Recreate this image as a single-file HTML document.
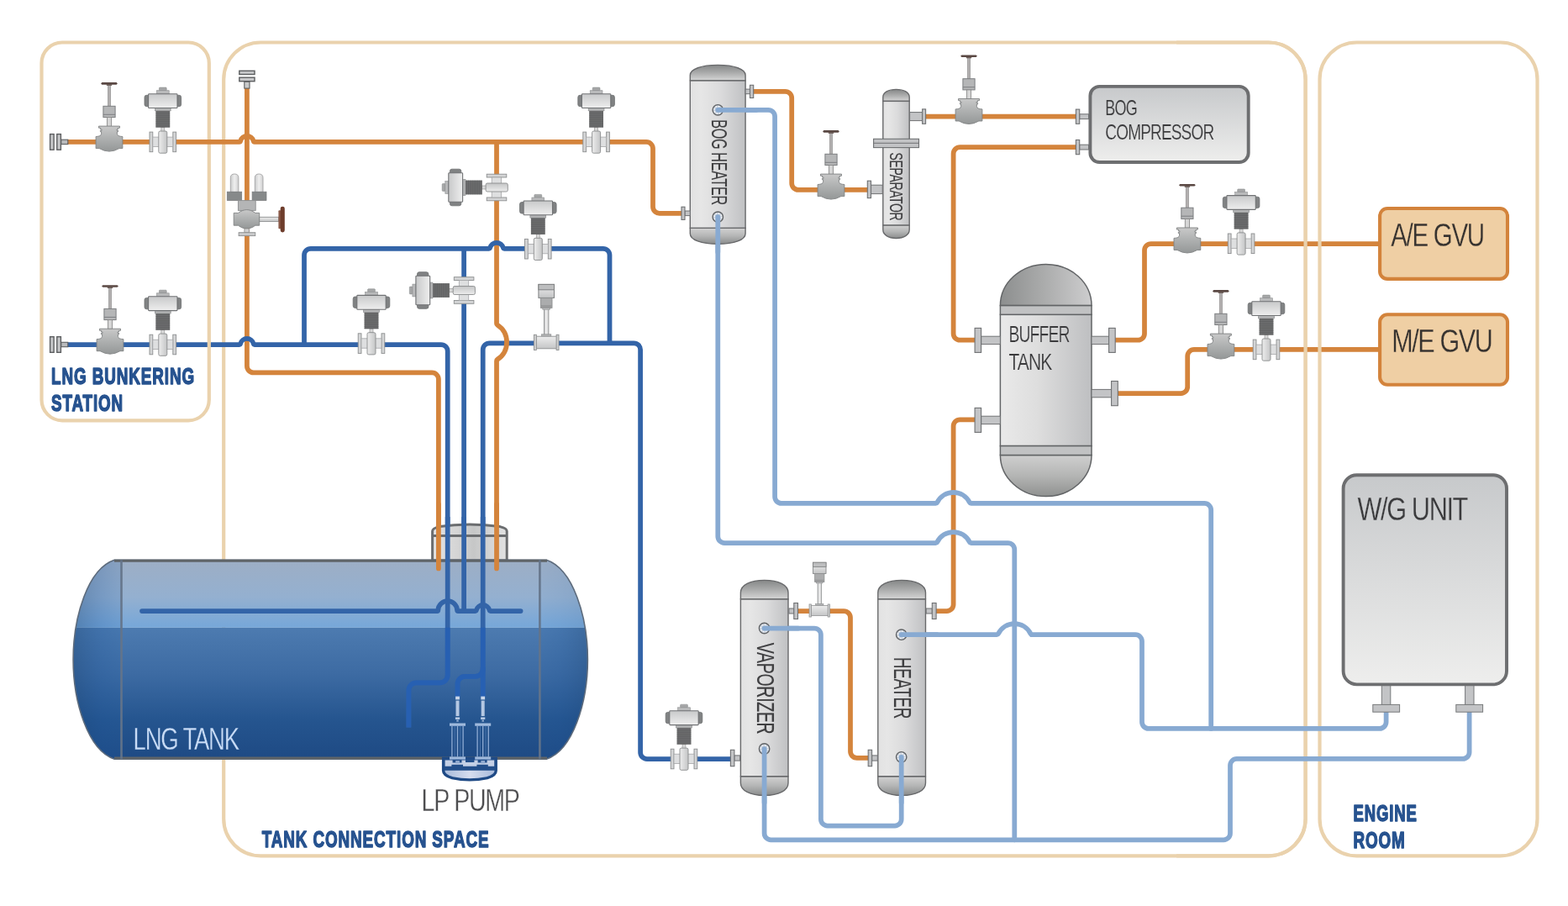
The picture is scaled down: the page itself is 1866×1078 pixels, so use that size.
<!DOCTYPE html>
<html lang="en">
<head>
<meta charset="utf-8">
<title>LNG fuel gas supply system</title>
<style>
html,body{margin:0;padding:0;background:#fff;}
body{width:1866px;height:1078px;overflow:hidden;font-family:"Liberation Sans",sans-serif;}
svg{display:block;}
</style>
</head>
<body>
<svg width="1866" height="1078" viewBox="0 0 1866 1078" style="will-change:transform">
<defs>
<linearGradient id="g1" x1="0" y1="0" x2="1" y2="0"><stop offset="0" stop-color="#E2E2E2"/><stop offset="0.2" stop-color="#E6E6E6"/><stop offset="0.55" stop-color="#DBDBDC"/><stop offset="1" stop-color="#C0C1C3"/></linearGradient>
<linearGradient id="g2" x1="0" y1="0" x2="0" y2="1"><stop offset="0" stop-color="#858787"/><stop offset="0.5" stop-color="#ABACAC"/><stop offset="1" stop-color="#D6D6D6"/></linearGradient>
<linearGradient id="g3" x1="0" y1="0" x2="0" y2="1"><stop offset="0" stop-color="#D2D2D2"/><stop offset="0.5" stop-color="#B4B5B5"/><stop offset="1" stop-color="#8A8C8C"/></linearGradient>
<linearGradient id="g4" x1="0" y1="0" x2="0" y2="1"><stop offset="0" stop-color="#C9C9C9"/><stop offset="0.45" stop-color="#B0B2B2"/><stop offset="1" stop-color="#949797"/></linearGradient>
<linearGradient id="g5" x1="0" y1="0" x2="0" y2="1"><stop offset="0" stop-color="#C8C9CA"/><stop offset="1" stop-color="#EEEEEE"/></linearGradient>
<linearGradient id="g6" x1="0" y1="0" x2="1" y2="0"><stop offset="0" stop-color="#C8C9CA"/><stop offset="1" stop-color="#EEEEEE"/></linearGradient>
<linearGradient id="g7" x1="0" y1="0" x2="1" y2="0"><stop offset="0" stop-color="#EDEDED"/><stop offset="1" stop-color="#C4C5C6"/></linearGradient>
<linearGradient id="g8" x1="0" y1="0" x2="0" y2="1"><stop offset="0" stop-color="#EDEDED"/><stop offset="1" stop-color="#C4C5C6"/></linearGradient>
<linearGradient id="g9" x1="0" y1="0" x2="0" y2="1"><stop offset="0" stop-color="#C7C9CB"/><stop offset="1" stop-color="#EEEEED"/></linearGradient>
<linearGradient id="g10" x1="0" y1="0" x2="1" y2="0"><stop offset="0" stop-color="#C9CACB"/><stop offset="0.5" stop-color="#EFEFEF"/><stop offset="1" stop-color="#CFCFD0"/></linearGradient>
<linearGradient id="g11" x1="0" y1="0" x2="1" y2="0"><stop offset="0" stop-color="#8C8E8E"/><stop offset="0.45" stop-color="#A9AAAA"/><stop offset="1" stop-color="#CDCDCE"/></linearGradient>
<linearGradient id="g12" x1="0" y1="0" x2="1" y2="0"><stop offset="0" stop-color="#E9E9E9"/><stop offset="0.4" stop-color="#DEDEDE"/><stop offset="1" stop-color="#BEBFC1"/></linearGradient>
<linearGradient id="g13" x1="0" y1="0" x2="0" y2="1"><stop offset="0" stop-color="#CFCFCF"/><stop offset="0.5" stop-color="#B4B5B4"/><stop offset="1" stop-color="#8F9190"/></linearGradient>
<linearGradient id="g14" x1="0" y1="0" x2="1" y2="0"><stop offset="0" stop-color="#E3E3E3"/><stop offset="0.35" stop-color="#D4D4D4"/><stop offset="0.55" stop-color="#C6C7C7"/><stop offset="1" stop-color="#E2E2E2"/></linearGradient>
<clipPath id="tankclip"><path d="M136.2,666.2 H650.3 C682,676.7 699.4,734.2 699.4,784.7 C699.4,835.2 682,892.7 650.3,903.2 H136.2 C104.5,892.7 87.1,835.2 87.1,784.7 C87.1,734.2 104.5,676.7 136.2,666.2 Z"/></clipPath>
<linearGradient id="g15" x1="0" y1="0" x2="0" y2="1"><stop offset="0" stop-color="#9DAEC5"/><stop offset="0.55" stop-color="#94B0D0"/><stop offset="1" stop-color="#76A7D9"/></linearGradient>
<linearGradient id="g16" x1="0" y1="0" x2="0" y2="1"><stop offset="0" stop-color="#4D7BB0"/><stop offset="0.35" stop-color="#3D6BA3"/><stop offset="0.7" stop-color="#25558F"/><stop offset="1" stop-color="#1E4A84"/></linearGradient>
<linearGradient id="g17" x1="0" y1="0" x2="1" y2="0"><stop offset="0" stop-color="#17406F" stop-opacity="0.42"/><stop offset="0.6" stop-color="#1D569B" stop-opacity="0.26"/><stop offset="1" stop-color="#2160A8" stop-opacity="0.16"/></linearGradient>
<linearGradient id="g18" x1="0" y1="0" x2="1" y2="0"><stop offset="0" stop-color="#2160A8" stop-opacity="0.1"/><stop offset="0.4" stop-color="#1D569B" stop-opacity="0.2"/><stop offset="1" stop-color="#17406F" stop-opacity="0.38"/></linearGradient>
<clipPath id="liqclip"><rect x="80" y="746.8" width="640" height="200"/></clipPath>
<linearGradient id="g19" x1="0" y1="0" x2="1" y2="0"><stop offset="0" stop-color="#A9BBDB"/><stop offset="0.5" stop-color="#D6DDEE"/><stop offset="1" stop-color="#A9BBDB"/></linearGradient>
</defs>
<rect width="1866" height="1078" fill="#ffffff"/>
<rect x="266.2" y="50.5" width="1287.4" height="967.8" rx="44" ry="44" fill="none" stroke="#EAD2AD" stroke-width="4.2"/>
<path d="M293.9,104L293.9,435.6A7.8,7.8 0 0 0 301.7,443.4L514.1,443.4A7.8,7.8 0 0 1 521.9,451.2L521.9,676.4" fill="none" stroke="#D4843C" stroke-width="5.75" stroke-linecap="round" stroke-linejoin="round"/>
<path d="M552.1,295.8V670" fill="none" stroke="#3364A8" stroke-width="5.75" stroke-linecap="butt" stroke-linejoin="round"/>
<path d="M574.7,670L574.7,416.1A7.8,7.8 0 0 1 582.5,408.3L754.3,408.3A7.8,7.8 0 0 1 762.1,416.1L762.1,895.2A7.8,7.8 0 0 0 769.9,903L870,903" fill="none" stroke="#3364A8" stroke-width="5.75" stroke-linecap="butt" stroke-linejoin="round"/>
<path d="M591,168.9L591,384.99A2,2 0 0 0 591.91,386.66A24.5,24.5 0 0 1 591.91,427.74A2,2 0 0 0 591,429.41L591,676.4" fill="none" stroke="#D4843C" stroke-width="5.75" stroke-linecap="round" stroke-linejoin="round"/>
<path d="M362,410L362,303.6A7.8,7.8 0 0 1 369.8,295.8L581.99,295.8A1.2,1.2 0 0 0 583.15,294.9A8.1,8.1 0 0 1 598.85,294.9A1.2,1.2 0 0 0 600.01,295.8L717.7,295.8A7.8,7.8 0 0 1 725.5,303.6L725.5,408.3" fill="none" stroke="#3364A8" stroke-width="5.75" stroke-linecap="butt" stroke-linejoin="round"/>
<path d="M80,410L284.89,410A1.2,1.2 0 0 0 286.05,409.1A8.1,8.1 0 0 1 301.75,409.1A1.2,1.2 0 0 0 302.91,410L524.9,410A7.8,7.8 0 0 1 532.7,417.8L532.7,670" fill="none" stroke="#3364A8" stroke-width="5.75" stroke-linecap="butt" stroke-linejoin="round"/>
<rect x="49.5" y="50.5" width="199.3" height="449.8" rx="24.5" ry="24.5" fill="none" stroke="#EAD2AD" stroke-width="4.2"/>
<path d="M80,168.9L284.89,168.9A1.2,1.2 0 0 0 286.05,168A8.1,8.1 0 0 1 301.75,168A1.2,1.2 0 0 0 302.91,168.9L769.2,168.9A7.8,7.8 0 0 1 777,176.7L777,246A7.8,7.8 0 0 0 784.8,253.8L812,253.8" fill="none" stroke="#D4843C" stroke-width="5.75" stroke-linecap="butt" stroke-linejoin="round"/>
<path d="M896,108.8L934.4,108.8A7.8,7.8 0 0 1 942.2,116.6L942.2,218.1A7.8,7.8 0 0 0 950,225.9L1033,225.9" fill="none" stroke="#D4843C" stroke-width="5.75" stroke-linecap="butt" stroke-linejoin="round"/>
<path d="M1101,138.7H1281" fill="none" stroke="#D4843C" stroke-width="5.75" stroke-linecap="butt" stroke-linejoin="round"/>
<path d="M1281,175.1L1142.4,175.1A7.8,7.8 0 0 0 1134.6,182.9L1134.6,396.9A7.8,7.8 0 0 0 1142.4,404.7L1161,404.7" fill="none" stroke="#D4843C" stroke-width="5.75" stroke-linecap="butt" stroke-linejoin="round"/>
<path d="M1326,404.7L1354.2,404.7A7.8,7.8 0 0 0 1362,396.9L1362,297.8A7.8,7.8 0 0 1 1369.8,290L1642,290" fill="none" stroke="#D4843C" stroke-width="5.75" stroke-linecap="butt" stroke-linejoin="round"/>
<path d="M1329,468L1405.4,468A7.8,7.8 0 0 0 1413.2,460.2L1413.2,423.7A7.8,7.8 0 0 1 1421,415.9L1642,415.9" fill="none" stroke="#D4843C" stroke-width="5.75" stroke-linecap="butt" stroke-linejoin="round"/>
<path d="M1161,499.3L1142.4,499.3A7.8,7.8 0 0 0 1134.6,507.1L1134.6,719.2A7.8,7.8 0 0 1 1126.8,727L1113,727" fill="none" stroke="#D4843C" stroke-width="5.75" stroke-linecap="butt" stroke-linejoin="round"/>
<path d="M949,727.1L1004.2,727.1A7.8,7.8 0 0 1 1012,734.9L1012,894.1A7.8,7.8 0 0 0 1019.8,901.9L1034,901.9" fill="none" stroke="#D4843C" stroke-width="5.75" stroke-linecap="butt" stroke-linejoin="round"/>
<g fill="none" stroke="#EAD2AD" stroke-width="4.2">
<path d="M1400,50.5H1509.6A44,44 0 0 1 1553.6,94.5V974.3A44,44 0 0 1 1509.6,1018.3H1400"/>
<rect x="1570.5" y="50.5" width="259" height="967.8" rx="44" ry="44"/>
</g>
<path d="M854.3,130.8L914.3,130.8A7.8,7.8 0 0 1 922.1,138.6L922.1,591.1A7.8,7.8 0 0 0 929.9,598.9L1113.58,598.9A2,2 0 0 0 1115.37,597.79A21.5,21.5 0 0 1 1153.83,597.79A2,2 0 0 0 1155.62,598.9L1433.4,598.9A7.8,7.8 0 0 1 1441.2,606.7L1441.2,866.9" fill="none" stroke="#88AAD2" stroke-width="5.75" stroke-linecap="round" stroke-linejoin="round"/>
<path d="M854.3,258.2L854.3,638.2A7.8,7.8 0 0 0 862.1,646L1113.58,646A2,2 0 0 0 1115.37,644.89A21.5,21.5 0 0 1 1153.83,644.89A2,2 0 0 0 1155.62,646L1199.5,646A7.8,7.8 0 0 1 1207.3,653.8L1207.3,999.3" fill="none" stroke="#88AAD2" stroke-width="5.75" stroke-linecap="round" stroke-linejoin="round"/>
<path d="M909.6,747.5L969.1,747.5A7.8,7.8 0 0 1 976.9,755.3L976.9,974.7A7.8,7.8 0 0 0 984.7,982.5L1064.9,982.5A7.8,7.8 0 0 0 1072.7,974.7L1072.7,900.8" fill="none" stroke="#88AAD2" stroke-width="5.75" stroke-linecap="round" stroke-linejoin="round"/>
<path d="M909.6,891L909.6,991.5A7.8,7.8 0 0 0 917.4,999.3L1456.2,999.3A7.8,7.8 0 0 0 1464,991.5L1464,910.7A7.8,7.8 0 0 1 1471.8,902.9L1740.8,902.9A7.8,7.8 0 0 0 1748.6,895.1L1748.6,846" fill="none" stroke="#88AAD2" stroke-width="5.75" stroke-linecap="round" stroke-linejoin="round"/>
<path d="M1072.7,755.2L1186.28,755.2A2,2 0 0 0 1188.07,754.09A21.5,21.5 0 0 1 1226.53,754.09A2,2 0 0 0 1228.32,755.2L1351.2,755.2A7.8,7.8 0 0 1 1359,763L1359,859.1A7.8,7.8 0 0 0 1366.8,866.9L1641.8,866.9A7.8,7.8 0 0 0 1649.6,859.1L1649.6,846" fill="none" stroke="#88AAD2" stroke-width="5.75" stroke-linecap="round" stroke-linejoin="round"/>
<path d="M514.6,667V632Q514.6,628.6 523,626.6Q540,624 559,624Q578,624 595,626.6Q603.2,628.6 603.2,632V667Z" fill="url(#g14)" stroke="#6B6D6F" stroke-width="3"/>
<path d="M514.6,637.5H603.2" stroke="#6B6D6F" stroke-width="3" fill="none"/>
<g clip-path="url(#tankclip)">
<rect x="86" y="666.2" width="615" height="80.6" fill="url(#g15)"/>
<rect x="86" y="746.8" width="615" height="156.4" fill="url(#g16)"/>
<rect x="86" y="666.2" width="58.5" height="80.6" fill="url(#g17)" opacity="0.95"/>
<rect x="642.4" y="666.2" width="57.6" height="80.6" fill="url(#g18)" opacity="0.3"/>
<rect x="86" y="746.8" width="58.5" height="156.4" fill="url(#g17)" opacity="0.9"/>
<rect x="642.4" y="746.8" width="57.6" height="156.4" fill="url(#g18)" opacity="0.8"/>
</g>
<path d="M136.2,666.2 H650.3 C682,676.7 699.4,734.2 699.4,784.7 C699.4,835.2 682,892.7 650.3,903.2 H136.2 C104.5,892.7 87.1,835.2 87.1,784.7 C87.1,734.2 104.5,676.7 136.2,666.2 Z" fill="none" stroke="#5D6B7C" stroke-width="1.6"/>
<path d="M136,667.3H651M136,902.1H651" stroke="#5F6468" stroke-width="3" fill="none"/>
<path d="M144.5,666.2V903.2M642.4,666.2V903.2" stroke="#647489" stroke-width="2.6" fill="none" opacity="0.95"/>
<path d="M521.9,600V676.4" fill="none" stroke="#D4843C" stroke-width="5.75" stroke-linecap="round" stroke-linejoin="round"/>
<path d="M591,600V676.4" fill="none" stroke="#D4843C" stroke-width="5.75" stroke-linecap="round" stroke-linejoin="round"/>
<g>
<path d="M552.1,615V727" fill="none" stroke="#3364A8" stroke-width="5.75" stroke-linecap="butt" stroke-linejoin="round"/>
<path d="M532.7,615L532.7,803.3A9,9 0 0 1 523.7,812.3L495.4,812.3A9,9 0 0 0 486.4,821.3L486.4,865.5" fill="none" stroke="#3364A8" stroke-width="5.75" stroke-linecap="butt" stroke-linejoin="round"/>
<path d="M574.7,615V829" fill="none" stroke="#3364A8" stroke-width="5.75" stroke-linecap="butt" stroke-linejoin="round"/>
<path d="M574.7,794L574.7,795.8A9,9 0 0 1 565.7,804.8L553.5,804.8A9,9 0 0 0 544.5,813.8L544.5,829" fill="none" stroke="#3364A8" stroke-width="5.75" stroke-linecap="butt" stroke-linejoin="round"/>
<path d="M169,727L520.31,727A1,1 0 0 0 521.31,726.05A11.4,11.4 0 0 1 544.09,726.05A1,1 0 0 0 545.09,727L565.69,727A1.2,1.2 0 0 0 566.85,726.1A8.1,8.1 0 0 1 582.55,726.1A1.2,1.2 0 0 0 583.71,727L619.6,727" fill="none" stroke="#3364A8" stroke-width="5.75" stroke-linecap="round" stroke-linejoin="round"/>
</g>
<g clip-path="url(#liqclip)">
<path d="M552.1,615V727" fill="none" stroke="#2760B2" stroke-width="5.75" stroke-linecap="butt" stroke-linejoin="round"/>
<path d="M532.7,615L532.7,803.3A9,9 0 0 1 523.7,812.3L495.4,812.3A9,9 0 0 0 486.4,821.3L486.4,865.5" fill="none" stroke="#2760B2" stroke-width="5.75" stroke-linecap="butt" stroke-linejoin="round"/>
<path d="M574.7,615V829" fill="none" stroke="#2760B2" stroke-width="5.75" stroke-linecap="butt" stroke-linejoin="round"/>
<path d="M574.7,794L574.7,795.8A9,9 0 0 1 565.7,804.8L553.5,804.8A9,9 0 0 0 544.5,813.8L544.5,829" fill="none" stroke="#2760B2" stroke-width="5.75" stroke-linecap="butt" stroke-linejoin="round"/>
<path d="M169,727L520.31,727A1,1 0 0 0 521.31,726.05A11.4,11.4 0 0 1 544.09,726.05A1,1 0 0 0 545.09,727L565.69,727A1.2,1.2 0 0 0 566.85,726.1A8.1,8.1 0 0 1 582.55,726.1A1.2,1.2 0 0 0 583.71,727L619.6,727" fill="none" stroke="#2760B2" stroke-width="5.75" stroke-linecap="round" stroke-linejoin="round"/>
</g>
<path d="M527.2,902V917Q527.2,923 538,926Q548,928.2 558.8,928.2Q570,928.2 580,926Q590.6,923 590.6,917V902Z" fill="#234F8B" stroke="#1F4A85" stroke-width="2.6"/>
<path d="M529.5,916.8H588.4V917.6Q588.4,921.4 579,924.2Q569,926.2 558.8,926.2Q549,926.2 539,924.2Q529.5,921.4 529.5,917.6Z" fill="url(#g19)"/>
<path d="M529.6,904.6H538.6V907.4H549.5V904.6H554V907H564.4V904.6H568.6V907.4H579.6V904.6H588.2V911.8H580.8V909.8H567.4V911.8H551V909.8H537.4V911.8H529.6Z" fill="#C4D0E6"/>
<rect x="542.1" y="828.6" width="4.8" height="3.8" fill="#C9D6EA"/>
<rect x="542.5" y="833.6" width="4" height="18.4" fill="#B5C8E3"/>
<rect x="541.9" y="853.4" width="5.2" height="2.6" fill="#B5C8E3"/>
<rect x="543.3" y="856.6" width="2.4" height="2" fill="#9DB6D8"/>
<rect x="535" y="860.5" width="19" height="3.3" fill="#9FB9DC"/>
<path d="M537.9,863.8V900.4M544.5,863.8V900.4M551.1,863.8V900.4" stroke="#8FACD4" stroke-width="1.3" fill="none"/>
<path d="M541.2,863.8V900.4M547.8,863.8V900.4" stroke="#5D86BD" stroke-width="0.7" fill="none"/>
<rect x="535" y="900.4" width="19" height="3.2" fill="#9FB9DC"/>
<rect x="542.1" y="905" width="4.8" height="3.4" fill="#8FA9CF"/>
<rect x="572.3" y="828.6" width="4.8" height="3.8" fill="#C9D6EA"/>
<rect x="572.7" y="833.6" width="4" height="18.4" fill="#B5C8E3"/>
<rect x="572.1" y="853.4" width="5.2" height="2.6" fill="#B5C8E3"/>
<rect x="573.5" y="856.6" width="2.4" height="2" fill="#9DB6D8"/>
<rect x="565.2" y="860.5" width="19" height="3.3" fill="#9FB9DC"/>
<path d="M568.1,863.8V900.4M574.7,863.8V900.4M581.3,863.8V900.4" stroke="#8FACD4" stroke-width="1.3" fill="none"/>
<path d="M571.4,863.8V900.4M578,863.8V900.4" stroke="#5D86BD" stroke-width="0.7" fill="none"/>
<rect x="565.2" y="900.4" width="19" height="3.2" fill="#9FB9DC"/>
<rect x="572.3" y="905" width="4.8" height="3.4" fill="#8FA9CF"/>
<path d="M821.3,96V89.49C821.3,82.24 834.46,77.4 854.2,77.4C873.94,77.4 887.1,82.24 887.1,89.49V96Z" fill="url(#g2)" stroke="#68696B" stroke-width="1.4" stroke-linejoin="round"/>
<path d="M821.3,271.3V277.95C821.3,285.36 834.46,290.3 854.2,290.3C873.94,290.3 887.1,285.36 887.1,277.95V271.3Z" fill="url(#g3)" stroke="#68696B" stroke-width="1.4" stroke-linejoin="round"/>
<rect x="821.3" y="96" width="65.8" height="175.3" fill="url(#g1)" stroke="#68696B" stroke-width="1.4"/>
<rect x="815" y="251" width="6.3" height="5.6" fill="#C3C4C6" stroke="#6F7173" stroke-width="1"/>
<rect x="811" y="246.2" width="4" height="15.2" fill="#C3C4C6" stroke="#6F7173" stroke-width="1.1"/>
<rect x="887.1" y="106.1" width="5.4" height="5.6" fill="#C3C4C6" stroke="#6F7173" stroke-width="1"/>
<rect x="892.5" y="101.3" width="4.2" height="15.2" fill="#C3C4C6" stroke="#6F7173" stroke-width="1.1"/>
<path d="M1050.8,120.4V115.5C1050.8,110.04 1057.08,106.4 1066.5,106.4C1075.92,106.4 1082.2,110.04 1082.2,115.5V120.4Z" fill="url(#g2)" stroke="#68696B" stroke-width="1.4" stroke-linejoin="round"/>
<path d="M1050.8,267.9V273.36C1050.8,279.44 1057.08,283.5 1066.5,283.5C1075.92,283.5 1082.2,279.44 1082.2,273.36V267.9Z" fill="url(#g3)" stroke="#68696B" stroke-width="1.4" stroke-linejoin="round"/>
<rect x="1050.8" y="120.4" width="31.4" height="147.5" fill="url(#g1)" stroke="#68696B" stroke-width="1.4"/>
<rect x="1039.6" y="165.3" width="53.9" height="10.3" fill="#C2C3C5" stroke="#6E7072" stroke-width="1.1"/>
<path d="M1039.6,170.3H1093.5" stroke="#6E7072" stroke-width="1" fill="none"/>
<rect x="1036.5" y="220.2" width="13.7" height="10.4" fill="#C3C4C6" stroke="#6F7173" stroke-width="1"/>
<rect x="1032.3" y="215.2" width="4.2" height="20.4" fill="#C3C4C6" stroke="#6F7173" stroke-width="1.1"/>
<rect x="1082.6" y="133.6" width="15" height="10" fill="#C3C4C6" stroke="#6F7173" stroke-width="1"/>
<rect x="1097.6" y="129.9" width="4" height="17.4" fill="#C3C4C6" stroke="#6F7173" stroke-width="1.1"/>
<path d="M881.4,713V705.09C881.4,696.28 892.72,690.4 909.7,690.4C926.68,690.4 938,696.28 938,705.09V713Z" fill="url(#g2)" stroke="#68696B" stroke-width="1.4" stroke-linejoin="round"/>
<path d="M881.4,923.7V931.64C881.4,940.5 892.72,946.4 909.7,946.4C926.68,946.4 938,940.5 938,931.64V923.7Z" fill="url(#g3)" stroke="#68696B" stroke-width="1.4" stroke-linejoin="round"/>
<rect x="881.4" y="713" width="56.6" height="210.7" fill="url(#g1)" stroke="#68696B" stroke-width="1.4"/>
<rect x="873.9" y="898.9" width="6.7" height="6.2" fill="#C3C4C6" stroke="#6F7173" stroke-width="1"/>
<rect x="869.4" y="892.3" width="4.5" height="19.4" fill="#C3C4C6" stroke="#6F7173" stroke-width="1.1"/>
<rect x="938.9" y="724" width="5.9" height="6" fill="#C3C4C6" stroke="#6F7173" stroke-width="1"/>
<rect x="944.8" y="717.5" width="4.7" height="19" fill="#C3C4C6" stroke="#6F7173" stroke-width="1.1"/>
<path d="M1044.8,713V705.09C1044.8,696.28 1056.14,690.4 1073.15,690.4C1090.16,690.4 1101.5,696.28 1101.5,705.09V713Z" fill="url(#g2)" stroke="#68696B" stroke-width="1.4" stroke-linejoin="round"/>
<path d="M1044.8,923.7V931.64C1044.8,940.5 1056.14,946.4 1073.15,946.4C1090.16,946.4 1101.5,940.5 1101.5,931.64V923.7Z" fill="url(#g3)" stroke="#68696B" stroke-width="1.4" stroke-linejoin="round"/>
<rect x="1044.8" y="713" width="56.7" height="210.7" fill="url(#g1)" stroke="#68696B" stroke-width="1.4"/>
<rect x="1037.6" y="898.9" width="6.7" height="6.2" fill="#C3C4C6" stroke="#6F7173" stroke-width="1"/>
<rect x="1033.2" y="892.3" width="4.4" height="19.4" fill="#C3C4C6" stroke="#6F7173" stroke-width="1.1"/>
<rect x="1102.2" y="724" width="7.1" height="6" fill="#C3C4C6" stroke="#6F7173" stroke-width="1"/>
<rect x="1109.3" y="717.5" width="4.8" height="19" fill="#C3C4C6" stroke="#6F7173" stroke-width="1.1"/>
<path d="M1190.4,363.6 A54.3,49.2 0 0 1 1299,363.6 Z" fill="url(#g11)" stroke="#626466" stroke-width="1.5"/>
<path d="M1190.4,541.5 A54.3,49.1 0 0 0 1299,541.5 Z" fill="url(#g13)" stroke="#626466" stroke-width="1.5"/>
<rect x="1190.4" y="374.3" width="108.6" height="156.3" fill="url(#g12)" stroke="#626466" stroke-width="1.5"/>
<rect x="1190.4" y="363.6" width="108.6" height="10.7" fill="#C1C2C3" stroke="#626466" stroke-width="1.5"/>
<rect x="1190.4" y="530.6" width="108.6" height="10.9" fill="#C1C2C3" stroke="#626466" stroke-width="1.5"/>
<rect x="1167.6" y="400.2" width="22.8" height="9.4" fill="#C3C4C6" stroke="#6F7173" stroke-width="1"/>
<rect x="1160.1" y="390.4" width="7.5" height="29" fill="#C3C4C6" stroke="#6F7173" stroke-width="1.1"/>
<rect x="1167.6" y="495.2" width="22.8" height="9.4" fill="#C3C4C6" stroke="#6F7173" stroke-width="1"/>
<rect x="1160.1" y="485.4" width="7.5" height="29" fill="#C3C4C6" stroke="#6F7173" stroke-width="1.1"/>
<rect x="1299" y="400.2" width="20.6" height="9.4" fill="#C3C4C6" stroke="#6F7173" stroke-width="1"/>
<rect x="1319.6" y="390.4" width="7.6" height="29" fill="#C3C4C6" stroke="#6F7173" stroke-width="1.1"/>
<rect x="1299" y="463.4" width="23.6" height="9.4" fill="#C3C4C6" stroke="#6F7173" stroke-width="1"/>
<rect x="1322.6" y="453.5" width="7.7" height="29.2" fill="#C3C4C6" stroke="#6F7173" stroke-width="1.1"/>
<rect x="1297.4" y="102.9" width="188.3" height="90.1" fill="url(#g9)" stroke="#6D6E70" stroke-width="3.9" rx="11"/>
<rect x="1284.7" y="135.8" width="10.8" height="5.8" fill="#C3C4C6" stroke="#6F7173" stroke-width="1"/>
<rect x="1280.4" y="130.1" width="4.3" height="17.2" fill="#C3C4C6" stroke="#6F7173" stroke-width="1.1"/>
<rect x="1284.7" y="172.2" width="10.8" height="5.8" fill="#C3C4C6" stroke="#6F7173" stroke-width="1"/>
<rect x="1280.4" y="166.5" width="4.3" height="17.2" fill="#C3C4C6" stroke="#6F7173" stroke-width="1.1"/>
<rect x="1642.1" y="248" width="151.9" height="83.9" fill="#EFCFA4" stroke="#D3833B" stroke-width="4.1" rx="9"/>
<rect x="1642.1" y="374.3" width="151.9" height="83.5" fill="#EFCFA4" stroke="#D3833B" stroke-width="4.1" rx="9"/>
<rect x="1644.3" y="814" width="10.5" height="24.6" fill="#C3C4C6" stroke="#77797B" stroke-width="1"/>
<rect x="1633.8" y="838.4" width="31.8" height="8.8" fill="#C3C4C6" stroke="#77797B" stroke-width="1"/>
<rect x="1743.6" y="814" width="10.4" height="24.6" fill="#C3C4C6" stroke="#77797B" stroke-width="1"/>
<rect x="1732.8" y="838.4" width="31.8" height="8.8" fill="#C3C4C6" stroke="#77797B" stroke-width="1"/>
<rect x="1598.6" y="565.2" width="194.4" height="249.2" fill="url(#g9)" stroke="#6D6E70" stroke-width="3.9" rx="16"/>
<circle cx="854.3" cy="130.8" r="6.2" fill="#CBD3DE" stroke="#626466" stroke-width="1.4"/>
<circle cx="854.3" cy="130.8" r="4.4" fill="none" stroke="#FFFFFF" stroke-width="1.2" stroke-dasharray="1.6 1.85" opacity="0.9"/>
<circle cx="854.3" cy="258.2" r="6.2" fill="#CBD3DE" stroke="#626466" stroke-width="1.4"/>
<circle cx="854.3" cy="258.2" r="4.4" fill="none" stroke="#FFFFFF" stroke-width="1.2" stroke-dasharray="1.6 1.85" opacity="0.9"/>
<circle cx="909.6" cy="747.5" r="6.2" fill="#CBD3DE" stroke="#626466" stroke-width="1.4"/>
<circle cx="909.6" cy="747.5" r="4.4" fill="none" stroke="#FFFFFF" stroke-width="1.2" stroke-dasharray="1.6 1.85" opacity="0.9"/>
<circle cx="909.6" cy="891" r="6.2" fill="#CBD3DE" stroke="#626466" stroke-width="1.4"/>
<circle cx="909.6" cy="891" r="4.4" fill="none" stroke="#FFFFFF" stroke-width="1.2" stroke-dasharray="1.6 1.85" opacity="0.9"/>
<circle cx="1072.7" cy="755.2" r="6.2" fill="#CBD3DE" stroke="#626466" stroke-width="1.4"/>
<circle cx="1072.7" cy="755.2" r="4.4" fill="none" stroke="#FFFFFF" stroke-width="1.2" stroke-dasharray="1.6 1.85" opacity="0.9"/>
<circle cx="1072.7" cy="900.8" r="6.2" fill="#CBD3DE" stroke="#626466" stroke-width="1.4"/>
<circle cx="1072.7" cy="900.8" r="4.4" fill="none" stroke="#FFFFFF" stroke-width="1.2" stroke-dasharray="1.6 1.85" opacity="0.9"/>
<path d="M854.3,130.8H900" fill="none" stroke="#88AAD2" stroke-width="5.75" stroke-linecap="round" stroke-linejoin="round"/>
<path d="M854.3,258.2V300" fill="none" stroke="#88AAD2" stroke-width="5.75" stroke-linecap="round" stroke-linejoin="round"/>
<path d="M909.6,747.5H950" fill="none" stroke="#88AAD2" stroke-width="5.75" stroke-linecap="round" stroke-linejoin="round"/>
<path d="M909.6,891V955" fill="none" stroke="#88AAD2" stroke-width="5.75" stroke-linecap="round" stroke-linejoin="round"/>
<path d="M1072.7,755.2H1115" fill="none" stroke="#88AAD2" stroke-width="5.75" stroke-linecap="round" stroke-linejoin="round"/>
<path d="M1072.7,900.8V955" fill="none" stroke="#88AAD2" stroke-width="5.75" stroke-linecap="round" stroke-linejoin="round"/>
<rect x="59.6" y="159.6" width="4.5" height="18.6" fill="#C6C7C9" stroke="#5C5E60" stroke-width="1.4"/>
<rect x="67.8" y="159.6" width="4.6" height="18.6" fill="#C6C7C9" stroke="#5C5E60" stroke-width="1.4"/>
<rect x="72.8" y="166.2" width="8" height="5.4" fill="#B9BABC" stroke="#5C5E60" stroke-width="1.1"/>
<rect x="59.6" y="400.7" width="4.5" height="18.6" fill="#C6C7C9" stroke="#5C5E60" stroke-width="1.4"/>
<rect x="67.8" y="400.7" width="4.6" height="18.6" fill="#C6C7C9" stroke="#5C5E60" stroke-width="1.4"/>
<rect x="72.8" y="407.3" width="8" height="5.4" fill="#B9BABC" stroke="#5C5E60" stroke-width="1.1"/>
<rect x="284.8" y="84.3" width="18.2" height="4.2" fill="#C6C7C9" stroke="#5C5E60" stroke-width="1.4"/>
<rect x="284.8" y="92.2" width="18.2" height="4.5" fill="#C6C7C9" stroke="#5C5E60" stroke-width="1.4"/>
<rect x="290.8" y="97.3" width="6.2" height="7.8" fill="#C9CACB" stroke="#5C5E60" stroke-width="1.1"/>
<g transform="translate(130,168.9)">
<rect x="-1.7" y="-68" width="3.4" height="25.5" fill="#B3B0B0" stroke="#8C8A8A" stroke-width="0.6"/>
<rect x="-3.2" y="-68.6" width="6.4" height="1.6" fill="#6B5C58"/>
<path d="M-9.9,-69.5L-8.6,-70.8H8.6L9.9,-69.5L8.6,-68.2H-8.6Z" fill="#5A4843"/>
<rect x="-7.1" y="-42.6" width="14.2" height="13.2" fill="#B5B6B7" stroke="#7C7E80" stroke-width="1"/>
<path d="M-7.1,-32.6H7.1" stroke="#7C7E80" stroke-width="1" fill="none"/>
<rect x="-2.6" y="-29.4" width="5.2" height="10.9" fill="#D6D6D6" stroke="#8A8A8A" stroke-width="0.9"/>
<path d="M-12.5,-18.8H12.5V-16.7H10.4V-15H9V-13.6H10.6V-12.3H9.4V-9.6Q9.6,-6.6 15.9,-6.4V7.7H11.9Q6,11.2 0,11.2Q-6,11.2 -11.9,7.7H-15.9V-6.4Q-9.6,-6.6 -9.4,-9.6V-12.3H-10.6V-13.6H-9V-15H-10.4V-16.7H-12.5Z" fill="url(#g4)" stroke="#808283" stroke-width="0.9"/>
</g>
<g transform="translate(131,410)">
<rect x="-1.7" y="-68" width="3.4" height="25.5" fill="#B3B0B0" stroke="#8C8A8A" stroke-width="0.6"/>
<rect x="-3.2" y="-68.6" width="6.4" height="1.6" fill="#6B5C58"/>
<path d="M-9.9,-69.5L-8.6,-70.8H8.6L9.9,-69.5L8.6,-68.2H-8.6Z" fill="#5A4843"/>
<rect x="-7.1" y="-42.6" width="14.2" height="13.2" fill="#B5B6B7" stroke="#7C7E80" stroke-width="1"/>
<path d="M-7.1,-32.6H7.1" stroke="#7C7E80" stroke-width="1" fill="none"/>
<rect x="-2.6" y="-29.4" width="5.2" height="10.9" fill="#D6D6D6" stroke="#8A8A8A" stroke-width="0.9"/>
<path d="M-12.5,-18.8H12.5V-16.7H10.4V-15H9V-13.6H10.6V-12.3H9.4V-9.6Q9.6,-6.6 15.9,-6.4V7.7H11.9Q6,11.2 0,11.2Q-6,11.2 -11.9,7.7H-15.9V-6.4Q-9.6,-6.6 -9.4,-9.6V-12.3H-10.6V-13.6H-9V-15H-10.4V-16.7H-12.5Z" fill="url(#g4)" stroke="#808283" stroke-width="0.9"/>
</g>
<g transform="translate(989,225.9)">
<rect x="-1.7" y="-68" width="3.4" height="25.5" fill="#B3B0B0" stroke="#8C8A8A" stroke-width="0.6"/>
<rect x="-3.2" y="-68.6" width="6.4" height="1.6" fill="#6B5C58"/>
<path d="M-9.9,-69.5L-8.6,-70.8H8.6L9.9,-69.5L8.6,-68.2H-8.6Z" fill="#5A4843"/>
<rect x="-7.1" y="-42.6" width="14.2" height="13.2" fill="#B5B6B7" stroke="#7C7E80" stroke-width="1"/>
<path d="M-7.1,-32.6H7.1" stroke="#7C7E80" stroke-width="1" fill="none"/>
<rect x="-2.6" y="-29.4" width="5.2" height="10.9" fill="#D6D6D6" stroke="#8A8A8A" stroke-width="0.9"/>
<path d="M-12.5,-18.8H12.5V-16.7H10.4V-15H9V-13.6H10.6V-12.3H9.4V-9.6Q9.6,-6.6 15.9,-6.4V7.7H11.9Q6,11.2 0,11.2Q-6,11.2 -11.9,7.7H-15.9V-6.4Q-9.6,-6.6 -9.4,-9.6V-12.3H-10.6V-13.6H-9V-15H-10.4V-16.7H-12.5Z" fill="url(#g4)" stroke="#808283" stroke-width="0.9"/>
</g>
<g transform="translate(1153,136.3)">
<rect x="-1.7" y="-68" width="3.4" height="25.5" fill="#B3B0B0" stroke="#8C8A8A" stroke-width="0.6"/>
<rect x="-3.2" y="-68.6" width="6.4" height="1.6" fill="#6B5C58"/>
<path d="M-9.9,-69.5L-8.6,-70.8H8.6L9.9,-69.5L8.6,-68.2H-8.6Z" fill="#5A4843"/>
<rect x="-7.1" y="-42.6" width="14.2" height="13.2" fill="#B5B6B7" stroke="#7C7E80" stroke-width="1"/>
<path d="M-7.1,-32.6H7.1" stroke="#7C7E80" stroke-width="1" fill="none"/>
<rect x="-2.6" y="-29.4" width="5.2" height="10.9" fill="#D6D6D6" stroke="#8A8A8A" stroke-width="0.9"/>
<path d="M-12.5,-18.8H12.5V-16.7H10.4V-15H9V-13.6H10.6V-12.3H9.4V-9.6Q9.6,-6.6 15.9,-6.4V7.7H11.9Q6,11.2 0,11.2Q-6,11.2 -11.9,7.7H-15.9V-6.4Q-9.6,-6.6 -9.4,-9.6V-12.3H-10.6V-13.6H-9V-15H-10.4V-16.7H-12.5Z" fill="url(#g4)" stroke="#808283" stroke-width="0.9"/>
</g>
<g transform="translate(1412.9,289.8)">
<rect x="-1.7" y="-68" width="3.4" height="25.5" fill="#B3B0B0" stroke="#8C8A8A" stroke-width="0.6"/>
<rect x="-3.2" y="-68.6" width="6.4" height="1.6" fill="#6B5C58"/>
<path d="M-9.9,-69.5L-8.6,-70.8H8.6L9.9,-69.5L8.6,-68.2H-8.6Z" fill="#5A4843"/>
<rect x="-7.1" y="-42.6" width="14.2" height="13.2" fill="#B5B6B7" stroke="#7C7E80" stroke-width="1"/>
<path d="M-7.1,-32.6H7.1" stroke="#7C7E80" stroke-width="1" fill="none"/>
<rect x="-2.6" y="-29.4" width="5.2" height="10.9" fill="#D6D6D6" stroke="#8A8A8A" stroke-width="0.9"/>
<path d="M-12.5,-18.8H12.5V-16.7H10.4V-15H9V-13.6H10.6V-12.3H9.4V-9.6Q9.6,-6.6 15.9,-6.4V7.7H11.9Q6,11.2 0,11.2Q-6,11.2 -11.9,7.7H-15.9V-6.4Q-9.6,-6.6 -9.4,-9.6V-12.3H-10.6V-13.6H-9V-15H-10.4V-16.7H-12.5Z" fill="url(#g4)" stroke="#808283" stroke-width="0.9"/>
</g>
<g transform="translate(1452.9,415.9)">
<rect x="-1.7" y="-68" width="3.4" height="25.5" fill="#B3B0B0" stroke="#8C8A8A" stroke-width="0.6"/>
<rect x="-3.2" y="-68.6" width="6.4" height="1.6" fill="#6B5C58"/>
<path d="M-9.9,-69.5L-8.6,-70.8H8.6L9.9,-69.5L8.6,-68.2H-8.6Z" fill="#5A4843"/>
<rect x="-7.1" y="-42.6" width="14.2" height="13.2" fill="#B5B6B7" stroke="#7C7E80" stroke-width="1"/>
<path d="M-7.1,-32.6H7.1" stroke="#7C7E80" stroke-width="1" fill="none"/>
<rect x="-2.6" y="-29.4" width="5.2" height="10.9" fill="#D6D6D6" stroke="#8A8A8A" stroke-width="0.9"/>
<path d="M-12.5,-18.8H12.5V-16.7H10.4V-15H9V-13.6H10.6V-12.3H9.4V-9.6Q9.6,-6.6 15.9,-6.4V7.7H11.9Q6,11.2 0,11.2Q-6,11.2 -11.9,7.7H-15.9V-6.4Q-9.6,-6.6 -9.4,-9.6V-12.3H-10.6V-13.6H-9V-15H-10.4V-16.7H-12.5Z" fill="url(#g4)" stroke="#808283" stroke-width="0.9"/>
</g>
<g transform="translate(193.8,168.9)">
<rect x="-15.8" y="-11.8" width="3.8" height="23.6" fill="#D4D5D6" stroke="#8C8E8F" stroke-width="0.9"/>
<rect x="12" y="-11.8" width="3.8" height="23.6" fill="#D4D5D6" stroke="#8C8E8F" stroke-width="0.9"/>
<rect x="-12" y="-5.8" width="24" height="11.4" fill="#DEDFE0" stroke="#A5A6A8" stroke-width="0.8"/>
<rect x="-2" y="-17.5" width="4" height="5" fill="#D8D8D8" stroke="#9A9A9A" stroke-width="0.7"/>
<rect x="-5" y="-12.9" width="10" height="26.2" fill="url(#g7)" stroke="#8A8C8D" stroke-width="0.9" rx="1.8"/>
<rect x="-8.4" y="-37.2" width="16.8" height="19.9" fill="#6F7071"/>
<path d="M-8.4,-35.6H8.4M-8.4,-33.4H8.4M-8.4,-31.2H8.4M-8.4,-29H8.4M-8.4,-26.8H8.4M-8.4,-24.6H8.4M-8.4,-22.4H8.4M-8.4,-20.2H8.4M-8.4,-18H8.4" stroke="#5A5B5C" stroke-width="0.8" fill="none"/>
<rect x="-9.4" y="-40.3" width="18.8" height="3.2" fill="#B4B5B6" stroke="#8C8E8F" stroke-width="0.7"/>
<path d="M-17,-55.6H-19.4Q-21.8,-55.6 -21.8,-53.2V-44.6Q-21.8,-42.2 -19.4,-42.2H-17Z" fill="#808283" stroke="#6C6E70" stroke-width="0.8"/>
<path d="M17,-55.6H19.4Q21.8,-55.6 21.8,-53.2V-44.6Q21.8,-42.2 19.4,-42.2H17Z" fill="#808283" stroke="#6C6E70" stroke-width="0.8"/>
<rect x="-4.4" y="-64.8" width="8.8" height="3.8" fill="#A6A7A8" stroke="#8C8E8F" stroke-width="0.6" rx="0.8"/>
<rect x="-7.4" y="-61.2" width="14.8" height="4.2" fill="#B9BABB" stroke="#8C8E8F" stroke-width="0.6"/>
<rect x="-17.2" y="-57.2" width="34.4" height="16.8" fill="url(#g5)" stroke="#707274" stroke-width="1.1" rx="0.8"/>
</g>
<g transform="translate(193.8,410)">
<rect x="-15.8" y="-11.8" width="3.8" height="23.6" fill="#D4D5D6" stroke="#8C8E8F" stroke-width="0.9"/>
<rect x="12" y="-11.8" width="3.8" height="23.6" fill="#D4D5D6" stroke="#8C8E8F" stroke-width="0.9"/>
<rect x="-12" y="-5.8" width="24" height="11.4" fill="#DEDFE0" stroke="#A5A6A8" stroke-width="0.8"/>
<rect x="-2" y="-17.5" width="4" height="5" fill="#D8D8D8" stroke="#9A9A9A" stroke-width="0.7"/>
<rect x="-5" y="-12.9" width="10" height="26.2" fill="url(#g7)" stroke="#8A8C8D" stroke-width="0.9" rx="1.8"/>
<rect x="-8.4" y="-37.2" width="16.8" height="19.9" fill="#6F7071"/>
<path d="M-8.4,-35.6H8.4M-8.4,-33.4H8.4M-8.4,-31.2H8.4M-8.4,-29H8.4M-8.4,-26.8H8.4M-8.4,-24.6H8.4M-8.4,-22.4H8.4M-8.4,-20.2H8.4M-8.4,-18H8.4" stroke="#5A5B5C" stroke-width="0.8" fill="none"/>
<rect x="-9.4" y="-40.3" width="18.8" height="3.2" fill="#B4B5B6" stroke="#8C8E8F" stroke-width="0.7"/>
<path d="M-17,-55.6H-19.4Q-21.8,-55.6 -21.8,-53.2V-44.6Q-21.8,-42.2 -19.4,-42.2H-17Z" fill="#808283" stroke="#6C6E70" stroke-width="0.8"/>
<path d="M17,-55.6H19.4Q21.8,-55.6 21.8,-53.2V-44.6Q21.8,-42.2 19.4,-42.2H17Z" fill="#808283" stroke="#6C6E70" stroke-width="0.8"/>
<rect x="-4.4" y="-64.8" width="8.8" height="3.8" fill="#A6A7A8" stroke="#8C8E8F" stroke-width="0.6" rx="0.8"/>
<rect x="-7.4" y="-61.2" width="14.8" height="4.2" fill="#B9BABB" stroke="#8C8E8F" stroke-width="0.6"/>
<rect x="-17.2" y="-57.2" width="34.4" height="16.8" fill="url(#g5)" stroke="#707274" stroke-width="1.1" rx="0.8"/>
</g>
<g transform="translate(442,408.6)">
<rect x="-15.8" y="-11.8" width="3.8" height="23.6" fill="#D4D5D6" stroke="#8C8E8F" stroke-width="0.9"/>
<rect x="12" y="-11.8" width="3.8" height="23.6" fill="#D4D5D6" stroke="#8C8E8F" stroke-width="0.9"/>
<rect x="-12" y="-5.8" width="24" height="11.4" fill="#DEDFE0" stroke="#A5A6A8" stroke-width="0.8"/>
<rect x="-2" y="-17.5" width="4" height="5" fill="#D8D8D8" stroke="#9A9A9A" stroke-width="0.7"/>
<rect x="-5" y="-12.9" width="10" height="26.2" fill="url(#g7)" stroke="#8A8C8D" stroke-width="0.9" rx="1.8"/>
<rect x="-8.4" y="-37.2" width="16.8" height="19.9" fill="#6F7071"/>
<path d="M-8.4,-35.6H8.4M-8.4,-33.4H8.4M-8.4,-31.2H8.4M-8.4,-29H8.4M-8.4,-26.8H8.4M-8.4,-24.6H8.4M-8.4,-22.4H8.4M-8.4,-20.2H8.4M-8.4,-18H8.4" stroke="#5A5B5C" stroke-width="0.8" fill="none"/>
<rect x="-9.4" y="-40.3" width="18.8" height="3.2" fill="#B4B5B6" stroke="#8C8E8F" stroke-width="0.7"/>
<path d="M-17,-55.6H-19.4Q-21.8,-55.6 -21.8,-53.2V-44.6Q-21.8,-42.2 -19.4,-42.2H-17Z" fill="#808283" stroke="#6C6E70" stroke-width="0.8"/>
<path d="M17,-55.6H19.4Q21.8,-55.6 21.8,-53.2V-44.6Q21.8,-42.2 19.4,-42.2H17Z" fill="#808283" stroke="#6C6E70" stroke-width="0.8"/>
<rect x="-4.4" y="-64.8" width="8.8" height="3.8" fill="#A6A7A8" stroke="#8C8E8F" stroke-width="0.6" rx="0.8"/>
<rect x="-7.4" y="-61.2" width="14.8" height="4.2" fill="#B9BABB" stroke="#8C8E8F" stroke-width="0.6"/>
<rect x="-17.2" y="-57.2" width="34.4" height="16.8" fill="url(#g5)" stroke="#707274" stroke-width="1.1" rx="0.8"/>
</g>
<g transform="translate(709.6,168.9)">
<rect x="-15.8" y="-11.8" width="3.8" height="23.6" fill="#D4D5D6" stroke="#8C8E8F" stroke-width="0.9"/>
<rect x="12" y="-11.8" width="3.8" height="23.6" fill="#D4D5D6" stroke="#8C8E8F" stroke-width="0.9"/>
<rect x="-12" y="-5.8" width="24" height="11.4" fill="#DEDFE0" stroke="#A5A6A8" stroke-width="0.8"/>
<rect x="-2" y="-17.5" width="4" height="5" fill="#D8D8D8" stroke="#9A9A9A" stroke-width="0.7"/>
<rect x="-5" y="-12.9" width="10" height="26.2" fill="url(#g7)" stroke="#8A8C8D" stroke-width="0.9" rx="1.8"/>
<rect x="-8.4" y="-37.2" width="16.8" height="19.9" fill="#6F7071"/>
<path d="M-8.4,-35.6H8.4M-8.4,-33.4H8.4M-8.4,-31.2H8.4M-8.4,-29H8.4M-8.4,-26.8H8.4M-8.4,-24.6H8.4M-8.4,-22.4H8.4M-8.4,-20.2H8.4M-8.4,-18H8.4" stroke="#5A5B5C" stroke-width="0.8" fill="none"/>
<rect x="-9.4" y="-40.3" width="18.8" height="3.2" fill="#B4B5B6" stroke="#8C8E8F" stroke-width="0.7"/>
<path d="M-17,-55.6H-19.4Q-21.8,-55.6 -21.8,-53.2V-44.6Q-21.8,-42.2 -19.4,-42.2H-17Z" fill="#808283" stroke="#6C6E70" stroke-width="0.8"/>
<path d="M17,-55.6H19.4Q21.8,-55.6 21.8,-53.2V-44.6Q21.8,-42.2 19.4,-42.2H17Z" fill="#808283" stroke="#6C6E70" stroke-width="0.8"/>
<rect x="-4.4" y="-64.8" width="8.8" height="3.8" fill="#A6A7A8" stroke="#8C8E8F" stroke-width="0.6" rx="0.8"/>
<rect x="-7.4" y="-61.2" width="14.8" height="4.2" fill="#B9BABB" stroke="#8C8E8F" stroke-width="0.6"/>
<rect x="-17.2" y="-57.2" width="34.4" height="16.8" fill="url(#g5)" stroke="#707274" stroke-width="1.1" rx="0.8"/>
</g>
<g transform="translate(640.3,296.2)">
<rect x="-15.8" y="-11.8" width="3.8" height="23.6" fill="#D4D5D6" stroke="#8C8E8F" stroke-width="0.9"/>
<rect x="12" y="-11.8" width="3.8" height="23.6" fill="#D4D5D6" stroke="#8C8E8F" stroke-width="0.9"/>
<rect x="-12" y="-5.8" width="24" height="11.4" fill="#DEDFE0" stroke="#A5A6A8" stroke-width="0.8"/>
<rect x="-2" y="-17.5" width="4" height="5" fill="#D8D8D8" stroke="#9A9A9A" stroke-width="0.7"/>
<rect x="-5" y="-12.9" width="10" height="26.2" fill="url(#g7)" stroke="#8A8C8D" stroke-width="0.9" rx="1.8"/>
<rect x="-8.4" y="-37.2" width="16.8" height="19.9" fill="#6F7071"/>
<path d="M-8.4,-35.6H8.4M-8.4,-33.4H8.4M-8.4,-31.2H8.4M-8.4,-29H8.4M-8.4,-26.8H8.4M-8.4,-24.6H8.4M-8.4,-22.4H8.4M-8.4,-20.2H8.4M-8.4,-18H8.4" stroke="#5A5B5C" stroke-width="0.8" fill="none"/>
<rect x="-9.4" y="-40.3" width="18.8" height="3.2" fill="#B4B5B6" stroke="#8C8E8F" stroke-width="0.7"/>
<path d="M-17,-55.6H-19.4Q-21.8,-55.6 -21.8,-53.2V-44.6Q-21.8,-42.2 -19.4,-42.2H-17Z" fill="#808283" stroke="#6C6E70" stroke-width="0.8"/>
<path d="M17,-55.6H19.4Q21.8,-55.6 21.8,-53.2V-44.6Q21.8,-42.2 19.4,-42.2H17Z" fill="#808283" stroke="#6C6E70" stroke-width="0.8"/>
<rect x="-4.4" y="-64.8" width="8.8" height="3.8" fill="#A6A7A8" stroke="#8C8E8F" stroke-width="0.6" rx="0.8"/>
<rect x="-7.4" y="-61.2" width="14.8" height="4.2" fill="#B9BABB" stroke="#8C8E8F" stroke-width="0.6"/>
<rect x="-17.2" y="-57.2" width="34.4" height="16.8" fill="url(#g5)" stroke="#707274" stroke-width="1.1" rx="0.8"/>
</g>
<g transform="translate(1477.1,289.8)">
<rect x="-15.8" y="-11.8" width="3.8" height="23.6" fill="#D4D5D6" stroke="#8C8E8F" stroke-width="0.9"/>
<rect x="12" y="-11.8" width="3.8" height="23.6" fill="#D4D5D6" stroke="#8C8E8F" stroke-width="0.9"/>
<rect x="-12" y="-5.8" width="24" height="11.4" fill="#DEDFE0" stroke="#A5A6A8" stroke-width="0.8"/>
<rect x="-2" y="-17.5" width="4" height="5" fill="#D8D8D8" stroke="#9A9A9A" stroke-width="0.7"/>
<rect x="-5" y="-12.9" width="10" height="26.2" fill="url(#g7)" stroke="#8A8C8D" stroke-width="0.9" rx="1.8"/>
<rect x="-8.4" y="-37.2" width="16.8" height="19.9" fill="#6F7071"/>
<path d="M-8.4,-35.6H8.4M-8.4,-33.4H8.4M-8.4,-31.2H8.4M-8.4,-29H8.4M-8.4,-26.8H8.4M-8.4,-24.6H8.4M-8.4,-22.4H8.4M-8.4,-20.2H8.4M-8.4,-18H8.4" stroke="#5A5B5C" stroke-width="0.8" fill="none"/>
<rect x="-9.4" y="-40.3" width="18.8" height="3.2" fill="#B4B5B6" stroke="#8C8E8F" stroke-width="0.7"/>
<path d="M-17,-55.6H-19.4Q-21.8,-55.6 -21.8,-53.2V-44.6Q-21.8,-42.2 -19.4,-42.2H-17Z" fill="#808283" stroke="#6C6E70" stroke-width="0.8"/>
<path d="M17,-55.6H19.4Q21.8,-55.6 21.8,-53.2V-44.6Q21.8,-42.2 19.4,-42.2H17Z" fill="#808283" stroke="#6C6E70" stroke-width="0.8"/>
<rect x="-4.4" y="-64.8" width="8.8" height="3.8" fill="#A6A7A8" stroke="#8C8E8F" stroke-width="0.6" rx="0.8"/>
<rect x="-7.4" y="-61.2" width="14.8" height="4.2" fill="#B9BABB" stroke="#8C8E8F" stroke-width="0.6"/>
<rect x="-17.2" y="-57.2" width="34.4" height="16.8" fill="url(#g5)" stroke="#707274" stroke-width="1.1" rx="0.8"/>
</g>
<g transform="translate(1507,415.9)">
<rect x="-15.8" y="-11.8" width="3.8" height="23.6" fill="#D4D5D6" stroke="#8C8E8F" stroke-width="0.9"/>
<rect x="12" y="-11.8" width="3.8" height="23.6" fill="#D4D5D6" stroke="#8C8E8F" stroke-width="0.9"/>
<rect x="-12" y="-5.8" width="24" height="11.4" fill="#DEDFE0" stroke="#A5A6A8" stroke-width="0.8"/>
<rect x="-2" y="-17.5" width="4" height="5" fill="#D8D8D8" stroke="#9A9A9A" stroke-width="0.7"/>
<rect x="-5" y="-12.9" width="10" height="26.2" fill="url(#g7)" stroke="#8A8C8D" stroke-width="0.9" rx="1.8"/>
<rect x="-8.4" y="-37.2" width="16.8" height="19.9" fill="#6F7071"/>
<path d="M-8.4,-35.6H8.4M-8.4,-33.4H8.4M-8.4,-31.2H8.4M-8.4,-29H8.4M-8.4,-26.8H8.4M-8.4,-24.6H8.4M-8.4,-22.4H8.4M-8.4,-20.2H8.4M-8.4,-18H8.4" stroke="#5A5B5C" stroke-width="0.8" fill="none"/>
<rect x="-9.4" y="-40.3" width="18.8" height="3.2" fill="#B4B5B6" stroke="#8C8E8F" stroke-width="0.7"/>
<path d="M-17,-55.6H-19.4Q-21.8,-55.6 -21.8,-53.2V-44.6Q-21.8,-42.2 -19.4,-42.2H-17Z" fill="#808283" stroke="#6C6E70" stroke-width="0.8"/>
<path d="M17,-55.6H19.4Q21.8,-55.6 21.8,-53.2V-44.6Q21.8,-42.2 19.4,-42.2H17Z" fill="#808283" stroke="#6C6E70" stroke-width="0.8"/>
<rect x="-4.4" y="-64.8" width="8.8" height="3.8" fill="#A6A7A8" stroke="#8C8E8F" stroke-width="0.6" rx="0.8"/>
<rect x="-7.4" y="-61.2" width="14.8" height="4.2" fill="#B9BABB" stroke="#8C8E8F" stroke-width="0.6"/>
<rect x="-17.2" y="-57.2" width="34.4" height="16.8" fill="url(#g5)" stroke="#707274" stroke-width="1.1" rx="0.8"/>
</g>
<g transform="translate(814,903)">
<rect x="-15.8" y="-11.8" width="3.8" height="23.6" fill="#D4D5D6" stroke="#8C8E8F" stroke-width="0.9"/>
<rect x="12" y="-11.8" width="3.8" height="23.6" fill="#D4D5D6" stroke="#8C8E8F" stroke-width="0.9"/>
<rect x="-12" y="-5.8" width="24" height="11.4" fill="#DEDFE0" stroke="#A5A6A8" stroke-width="0.8"/>
<rect x="-2" y="-17.5" width="4" height="5" fill="#D8D8D8" stroke="#9A9A9A" stroke-width="0.7"/>
<rect x="-5" y="-12.9" width="10" height="26.2" fill="url(#g7)" stroke="#8A8C8D" stroke-width="0.9" rx="1.8"/>
<rect x="-8.4" y="-37.2" width="16.8" height="19.9" fill="#6F7071"/>
<path d="M-8.4,-35.6H8.4M-8.4,-33.4H8.4M-8.4,-31.2H8.4M-8.4,-29H8.4M-8.4,-26.8H8.4M-8.4,-24.6H8.4M-8.4,-22.4H8.4M-8.4,-20.2H8.4M-8.4,-18H8.4" stroke="#5A5B5C" stroke-width="0.8" fill="none"/>
<rect x="-9.4" y="-40.3" width="18.8" height="3.2" fill="#B4B5B6" stroke="#8C8E8F" stroke-width="0.7"/>
<path d="M-17,-55.6H-19.4Q-21.8,-55.6 -21.8,-53.2V-44.6Q-21.8,-42.2 -19.4,-42.2H-17Z" fill="#808283" stroke="#6C6E70" stroke-width="0.8"/>
<path d="M17,-55.6H19.4Q21.8,-55.6 21.8,-53.2V-44.6Q21.8,-42.2 19.4,-42.2H17Z" fill="#808283" stroke="#6C6E70" stroke-width="0.8"/>
<rect x="-4.4" y="-64.8" width="8.8" height="3.8" fill="#A6A7A8" stroke="#8C8E8F" stroke-width="0.6" rx="0.8"/>
<rect x="-7.4" y="-61.2" width="14.8" height="4.2" fill="#B9BABB" stroke="#8C8E8F" stroke-width="0.6"/>
<rect x="-17.2" y="-57.2" width="34.4" height="16.8" fill="url(#g5)" stroke="#707274" stroke-width="1.1" rx="0.8"/>
</g>
<g transform="translate(591,223) rotate(-90)">
<rect x="-15.8" y="-11.8" width="3.8" height="23.6" fill="#D4D5D6" stroke="#8C8E8F" stroke-width="0.9"/>
<rect x="12" y="-11.8" width="3.8" height="23.6" fill="#D4D5D6" stroke="#8C8E8F" stroke-width="0.9"/>
<rect x="-12" y="-5.8" width="24" height="11.4" fill="#DEDFE0" stroke="#A5A6A8" stroke-width="0.8"/>
<rect x="-2" y="-17.5" width="4" height="5" fill="#D8D8D8" stroke="#9A9A9A" stroke-width="0.7"/>
<rect x="-5" y="-12.9" width="10" height="26.2" fill="url(#g7)" stroke="#8A8C8D" stroke-width="0.9" rx="1.8"/>
<rect x="-8.4" y="-37.2" width="16.8" height="19.9" fill="#6F7071"/>
<path d="M-8.4,-35.6H8.4M-8.4,-33.4H8.4M-8.4,-31.2H8.4M-8.4,-29H8.4M-8.4,-26.8H8.4M-8.4,-24.6H8.4M-8.4,-22.4H8.4M-8.4,-20.2H8.4M-8.4,-18H8.4" stroke="#5A5B5C" stroke-width="0.8" fill="none"/>
<rect x="-9.4" y="-40.3" width="18.8" height="3.2" fill="#B4B5B6" stroke="#8C8E8F" stroke-width="0.7"/>
<path d="M-17,-55.6H-19.4Q-21.8,-55.6 -21.8,-53.2V-44.6Q-21.8,-42.2 -19.4,-42.2H-17Z" fill="#808283" stroke="#6C6E70" stroke-width="0.8"/>
<path d="M17,-55.6H19.4Q21.8,-55.6 21.8,-53.2V-44.6Q21.8,-42.2 19.4,-42.2H17Z" fill="#808283" stroke="#6C6E70" stroke-width="0.8"/>
<rect x="-4.4" y="-64.8" width="8.8" height="3.8" fill="#A6A7A8" stroke="#8C8E8F" stroke-width="0.6" rx="0.8"/>
<rect x="-7.4" y="-61.2" width="14.8" height="4.2" fill="#B9BABB" stroke="#8C8E8F" stroke-width="0.6"/>
<rect x="-17.2" y="-57.2" width="34.4" height="16.8" fill="url(#g5)" stroke="#707274" stroke-width="1.1" rx="0.8"/>
</g>
<g transform="translate(552.1,345.5) rotate(-90)">
<rect x="-15.8" y="-11.8" width="3.8" height="23.6" fill="#D4D5D6" stroke="#8C8E8F" stroke-width="0.9"/>
<rect x="12" y="-11.8" width="3.8" height="23.6" fill="#D4D5D6" stroke="#8C8E8F" stroke-width="0.9"/>
<rect x="-12" y="-5.8" width="24" height="11.4" fill="#DEDFE0" stroke="#A5A6A8" stroke-width="0.8"/>
<rect x="-2" y="-17.5" width="4" height="5" fill="#D8D8D8" stroke="#9A9A9A" stroke-width="0.7"/>
<rect x="-5" y="-12.9" width="10" height="26.2" fill="url(#g7)" stroke="#8A8C8D" stroke-width="0.9" rx="1.8"/>
<rect x="-8.4" y="-37.2" width="16.8" height="19.9" fill="#6F7071"/>
<path d="M-8.4,-35.6H8.4M-8.4,-33.4H8.4M-8.4,-31.2H8.4M-8.4,-29H8.4M-8.4,-26.8H8.4M-8.4,-24.6H8.4M-8.4,-22.4H8.4M-8.4,-20.2H8.4M-8.4,-18H8.4" stroke="#5A5B5C" stroke-width="0.8" fill="none"/>
<rect x="-9.4" y="-40.3" width="18.8" height="3.2" fill="#B4B5B6" stroke="#8C8E8F" stroke-width="0.7"/>
<path d="M-17,-55.6H-19.4Q-21.8,-55.6 -21.8,-53.2V-44.6Q-21.8,-42.2 -19.4,-42.2H-17Z" fill="#808283" stroke="#6C6E70" stroke-width="0.8"/>
<path d="M17,-55.6H19.4Q21.8,-55.6 21.8,-53.2V-44.6Q21.8,-42.2 19.4,-42.2H17Z" fill="#808283" stroke="#6C6E70" stroke-width="0.8"/>
<rect x="-4.4" y="-64.8" width="8.8" height="3.8" fill="#A6A7A8" stroke="#8C8E8F" stroke-width="0.6" rx="0.8"/>
<rect x="-7.4" y="-61.2" width="14.8" height="4.2" fill="#B9BABB" stroke="#8C8E8F" stroke-width="0.6"/>
<rect x="-17.2" y="-57.2" width="34.4" height="16.8" fill="url(#g5)" stroke="#707274" stroke-width="1.1" rx="0.8"/>
</g>
<g transform="translate(650.2,408)">
<rect x="-2.7" y="-40.5" width="5.4" height="31" fill="url(#g10)" stroke="#8C8E8F" stroke-width="0.9"/>
<rect x="-9.3" y="-69.6" width="18.6" height="16" fill="url(#g8)" stroke="#808283" stroke-width="1"/>
<rect x="-9.3" y="-69.6" width="18.6" height="6.4" fill="#BDBEBF" stroke="#808283" stroke-width="1"/>
<rect x="-6.8" y="-53.5" width="13.6" height="11.8" fill="#ABACAD" stroke="#8C8E8F" stroke-width="0.9"/>
<rect x="-6.8" y="-45" width="13.6" height="3.3" fill="#999A9B"/>
<rect x="-4.4" y="-41.7" width="8.8" height="1.9" fill="#C4C5C6" stroke="#8C8E8F" stroke-width="0.7"/>
<rect x="-5.6" y="-10.2" width="11.2" height="2.6" fill="#B4B5B6" stroke="#8C8E8F" stroke-width="0.7"/>
<rect x="-12.3" y="-7.8" width="24.6" height="14.6" fill="url(#g8)" stroke="#8C8E8F" stroke-width="0.9"/>
<rect x="-14.8" y="-9.7" width="2.9" height="18.2" fill="#D0D1D2" stroke="#8C8E8F" stroke-width="0.9"/>
<rect x="11.9" y="-9.7" width="2.9" height="18.2" fill="#D0D1D2" stroke="#8C8E8F" stroke-width="0.9"/>
</g>
<g transform="translate(975.3,727) scale(0.83)">
<rect x="-2.7" y="-40.5" width="5.4" height="31" fill="url(#g10)" stroke="#8C8E8F" stroke-width="0.9"/>
<rect x="-9.3" y="-69.6" width="18.6" height="16" fill="url(#g8)" stroke="#808283" stroke-width="1"/>
<rect x="-9.3" y="-69.6" width="18.6" height="6.4" fill="#BDBEBF" stroke="#808283" stroke-width="1"/>
<rect x="-6.8" y="-53.5" width="13.6" height="11.8" fill="#ABACAD" stroke="#8C8E8F" stroke-width="0.9"/>
<rect x="-6.8" y="-45" width="13.6" height="3.3" fill="#999A9B"/>
<rect x="-4.4" y="-41.7" width="8.8" height="1.9" fill="#C4C5C6" stroke="#8C8E8F" stroke-width="0.7"/>
<rect x="-5.6" y="-10.2" width="11.2" height="2.6" fill="#B4B5B6" stroke="#8C8E8F" stroke-width="0.7"/>
<rect x="-12.3" y="-7.8" width="24.6" height="14.6" fill="url(#g8)" stroke="#8C8E8F" stroke-width="0.9"/>
<rect x="-14.8" y="-9.7" width="2.9" height="18.2" fill="#D0D1D2" stroke="#8C8E8F" stroke-width="0.9"/>
<rect x="11.9" y="-9.7" width="2.9" height="18.2" fill="#D0D1D2" stroke="#8C8E8F" stroke-width="0.9"/>
</g>
<path d="M274.3,228.5V211.5Q274.3,207 279.1,207Q283.9,207 283.9,211.5V228.5Z" fill="url(#g10)" stroke="#9A9B9C" stroke-width="0.8"/>
<path d="M303.3,228.5V211.5Q303.3,207 308.15,207Q313,207 313,211.5V228.5Z" fill="url(#g10)" stroke="#9A9B9C" stroke-width="0.8"/>
<rect x="270.3" y="228.2" width="17.4" height="10.4" fill="#86898A" stroke="#77797B" stroke-width="0.7"/>
<rect x="300.1" y="228.2" width="16.9" height="10.4" fill="#86898A" stroke="#77797B" stroke-width="0.7"/>
<rect x="283.4" y="238.6" width="20.8" height="11.8" fill="#B4B5B6" stroke="#8C8E8F" stroke-width="0.9"/>
<rect x="308.5" y="258.3" width="23.1" height="5.3" fill="url(#g8)" stroke="#8C8E8F" stroke-width="0.9"/>
<path d="M278.2,253.4H283.5C287,250.6 291,249.6 293.6,249.6C296.5,249.6 300.5,250.6 303.8,253.4H308.7V268.2H303.8C300.5,271 296.5,272 293.6,272C291,272 287,271 283.5,268.2H278.2Z" fill="url(#g4)" stroke="#808283" stroke-width="0.9"/>
<rect x="290.9" y="272" width="5.6" height="4.8" fill="#D0D0D0" stroke="#8C8E8F" stroke-width="0.8"/>
<rect x="284.1" y="276.7" width="19.7" height="3.9" fill="#C9CACB" stroke="#8C8E8F" stroke-width="0.9"/>
<rect x="331.4" y="250.3" width="3" height="22" fill="#8A5A48" rx="1"/>
<rect x="333.7" y="245.7" width="5.1" height="30.7" fill="#6E3D2C" rx="2.4"/>
<g font-family="'Liberation Sans', sans-serif">
<text x="61" y="456.6" font-size="27.4" font-weight="bold" fill="#26528F" textLength="171" lengthAdjust="spacingAndGlyphs" stroke="#26528F" stroke-width="1.5" stroke-linejoin="round" paint-order="stroke" letter-spacing="1.3">LNG BUNKERING</text>
<text x="61" y="488.6" font-size="27.4" font-weight="bold" fill="#26528F" textLength="86" lengthAdjust="spacingAndGlyphs" stroke="#26528F" stroke-width="1.5" stroke-linejoin="round" paint-order="stroke" letter-spacing="1.3">STATION</text>
<text x="311.8" y="1007.7" font-size="27.4" font-weight="bold" fill="#26528F" textLength="270.6" lengthAdjust="spacingAndGlyphs" stroke="#26528F" stroke-width="1.5" stroke-linejoin="round" paint-order="stroke" letter-spacing="1.3">TANK CONNECTION SPACE</text>
<text x="1610.4" y="976.9" font-size="27.4" font-weight="bold" fill="#26528F" textLength="76.3" lengthAdjust="spacingAndGlyphs" stroke="#26528F" stroke-width="1.5" stroke-linejoin="round" paint-order="stroke" letter-spacing="1.3">ENGINE</text>
<text x="1610.4" y="1008.8" font-size="27.4" font-weight="bold" fill="#26528F" textLength="62.2" lengthAdjust="spacingAndGlyphs" stroke="#26528F" stroke-width="1.5" stroke-linejoin="round" paint-order="stroke" letter-spacing="1.3">ROOM</text>
<text x="158.6" y="891.6" font-size="37.2" font-weight="normal" fill="#C9DCF6" textLength="125.2" lengthAdjust="spacingAndGlyphs" stroke="#21508C" stroke-width="0.35" stroke-linejoin="round" letter-spacing="-1.67">LNG TANK</text>
<text x="501.6" y="964.7" font-size="36.4" font-weight="normal" fill="#4D4D4F" textLength="116" lengthAdjust="spacingAndGlyphs" stroke="#FFFFFF" stroke-width="0.35" stroke-linejoin="round" letter-spacing="-1.64">LP PUMP</text>
<text x="1315.3" y="136.6" font-size="25.2" font-weight="normal" fill="#3A3A3C" textLength="37.6" lengthAdjust="spacingAndGlyphs" stroke="#D3D4D5" stroke-width="0.2" stroke-linejoin="round" letter-spacing="-1.13">BOG</text>
<text x="1315.3" y="165.8" font-size="25.2" font-weight="normal" fill="#3A3A3C" textLength="129" lengthAdjust="spacingAndGlyphs" stroke="#DEDEDF" stroke-width="0.2" stroke-linejoin="round" letter-spacing="-1.13">COMPRESSOR</text>
<text x="1200.5" y="406.7" font-size="27.5" font-weight="normal" fill="#3A3A3C" textLength="72" lengthAdjust="spacingAndGlyphs" stroke="#E1E1E1" stroke-width="0.2" stroke-linejoin="round" letter-spacing="-1.24">BUFFER</text>
<text x="1200.5" y="440" font-size="27.5" font-weight="normal" fill="#3A3A3C" textLength="50.8" lengthAdjust="spacingAndGlyphs" stroke="#E1E1E1" stroke-width="0.2" stroke-linejoin="round" letter-spacing="-1.24">TANK</text>
<text x="1655.2" y="292.6" font-size="39.2" font-weight="normal" fill="#36322F" textLength="110.6" lengthAdjust="spacingAndGlyphs" stroke="#EFCFA4" stroke-width="0.3" stroke-linejoin="round" letter-spacing="-1.76">A/E GVU</text>
<text x="1656.2" y="418.5" font-size="39.2" font-weight="normal" fill="#36322F" textLength="119.2" lengthAdjust="spacingAndGlyphs" stroke="#EFCFA4" stroke-width="0.3" stroke-linejoin="round" letter-spacing="-1.76">M/E GVU</text>
<text x="1615.4" y="618.7" font-size="39.6" font-weight="normal" fill="#3A3A3C" textLength="130.6" lengthAdjust="spacingAndGlyphs" stroke="#CDCFD0" stroke-width="0.3" stroke-linejoin="round" letter-spacing="-1.78">W/G UNIT</text>
<text x="0" y="0" transform="translate(846.6,142.2) rotate(90)" font-size="25.8" font-weight="normal" fill="#3F3F41" textLength="101.6" lengthAdjust="spacingAndGlyphs" stroke="#3F3F41" stroke-width="0.15" stroke-linejoin="round" paint-order="stroke" letter-spacing="-0.5">BOG HEATER</text>
<text x="0" y="0" transform="translate(1058.6,181.5) rotate(90)" font-size="21.8" font-weight="normal" fill="#3F3F41" textLength="80.8" lengthAdjust="spacingAndGlyphs" stroke="#3F3F41" stroke-width="0.15" stroke-linejoin="round" paint-order="stroke" letter-spacing="-0.5">SEPARATOR</text>
<text x="0" y="0" transform="translate(900.9,764.8) rotate(90)" font-size="29.6" font-weight="normal" fill="#3F3F41" textLength="108.6" lengthAdjust="spacingAndGlyphs" stroke="#3F3F41" stroke-width="0.15" stroke-linejoin="round" paint-order="stroke" letter-spacing="-0.5">VAPORIZER</text>
<text x="0" y="0" transform="translate(1063.5,782) rotate(90)" font-size="28.8" font-weight="normal" fill="#3F3F41" textLength="73" lengthAdjust="spacingAndGlyphs" stroke="#3F3F41" stroke-width="0.15" stroke-linejoin="round" paint-order="stroke" letter-spacing="-0.5">HEATER</text>
</g>
</svg>
</body>
</html>
